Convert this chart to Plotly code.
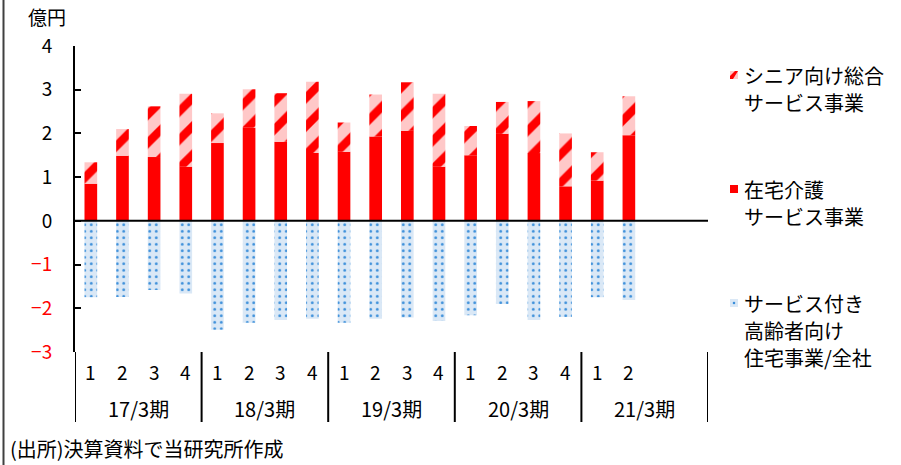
import plotly.graph_objects as go

# Fiscal-year groups and quarter labels along the category axis
fiscal_years = ["17/3期", "18/3期", "19/3期", "20/3期", "21/3期"]
quarters = ["1", "2", "3", "4", "1", "2", "3", "4", "1", "2", "3", "4",
            "1", "2", "3", "4", "1", "2"]

# Segment operating profit (億円)
home_care = [0.85, 1.49, 1.46, 1.24, 1.78, 2.13, 1.81, 1.55, 1.58, 1.93,
             2.06, 1.24, 1.50, 1.99, 1.55, 0.79, 0.92, 1.96]
senior_services = [0.49, 0.61, 1.16, 1.67, 0.68, 0.88, 1.11, 1.63, 0.67, 0.96,
                   1.11, 1.67, 0.67, 0.73, 1.19, 1.21, 0.65, 0.89]
housing_corporate = [-1.75, -1.74, -1.58, -1.66, -2.49, -2.33, -2.27, -2.24, -2.33, -2.24,
                     -2.21, -2.29, -2.16, -1.90, -2.27, -2.20, -1.75, -1.81]

y_ticks = [4, 3, 2, 1, 0, -1, -2, -3]

W, H = 901, 465
L, R, T, B = 75, 708, 46, 352
PW, PH = R - L, B - T


def px(x):
    return (x - L) / PW


def py(y):
    return (B - y) / PH


FONT = "Noto Sans CJK JP, Noto Sans, sans-serif"
FS_TEXT = 20
FS_NUM = 19
slots = 20
xs = list(range(len(quarters)))

fig = go.Figure()
fig.add_bar(x=xs, y=home_care, name="在宅介護サービス事業",
            marker=dict(color="#FF0000", line_width=0))
fig.add_bar(x=xs, y=senior_services, name="シニア向け総合サービス事業",
            marker=dict(color="#FFC8C8", line_width=0,
                        pattern=dict(shape="/", fgcolor="#FF0000", bgcolor="#FFC8C8",
                                     size=20, solidity=0.42, fillmode="replace")))
fig.add_bar(x=xs, y=housing_corporate, name="サービス付き高齢者向け住宅事業/全社",
            marker=dict(color="#DAE8F6", line_width=0,
                        pattern=dict(shape=".", fgcolor="#3A8EDA", bgcolor="#DAE8F6",
                                     size=6.5, solidity=0.15, fillmode="replace")))


def tick_text(v):
    if v < 0:
        return f'<span style="color:#FF0000">−{abs(v)}</span>'
    return str(v)


fig.update_layout(
    width=W, height=H,
    margin=dict(l=L, r=W - R, t=T, b=H - B, pad=0),
    paper_bgcolor="white", plot_bgcolor="white",
    barmode="relative", bargap=0.6,
    showlegend=False,
    font=dict(family=FONT, size=FS_TEXT, color="black"),
    xaxis=dict(range=[-0.5, slots - 0.5], showticklabels=False, showgrid=False,
               zeroline=False, showline=False, ticks=""),
    yaxis=dict(range=[-3, 4], tickvals=y_ticks, ticktext=[tick_text(v) for v in y_ticks],
               showgrid=False, zeroline=False, showline=True, linecolor="black",
               linewidth=2, ticks="inside", ticklen=6, tickwidth=2, tickcolor="black",
               ticklabelstandoff=17, tickfont=dict(family=FONT, size=FS_NUM, color="black"),
               layer="above traces"),
)

shapes = []
# zero baseline across the plot
shapes.append(dict(type="line", xref="paper", yref="y", x0=0, x1=1, y0=0, y1=0,
                   line=dict(color="black", width=2), layer="above"))
# group separators below the plot area
for k in range(len(fiscal_years) + 1):
    xv = -0.5 + 4 * k
    shapes.append(dict(type="line", xref="x", yref="paper", x0=xv, x1=xv,
                       y0=0, y1=py(422), line=dict(color="black", width=2)))
# left frame edge
shapes.append(dict(type="line", xref="paper", yref="paper", x0=px(3.5), x1=px(3.5),
                   y0=py(0), y1=py(H), line=dict(color="#404040", width=2)))

annotations = []
for i, q in enumerate(quarters):
    annotations.append(dict(x=i, xref="x", y=py(371), yref="paper", text=q,
                            font=dict(size=FS_NUM),
                            showarrow=False, xanchor="center", yanchor="middle"))
for k, fy in enumerate(fiscal_years):
    annotations.append(dict(x=1.5 + 4 * k, xref="x", y=py(408), yref="paper", text=fy,
                            showarrow=False, xanchor="center", yanchor="middle"))

# unit label and source note
annotations.append(dict(x=px(26), xref="paper", y=py(17), yref="paper", text="億円",
                        font=dict(size=19),
                        showarrow=False, xanchor="left", yanchor="middle"))
annotations.append(dict(x=px(8), xref="paper", y=py(448), yref="paper",
                        text="(出所)決算資料で当研究所作成",
                        showarrow=False, xanchor="left", yanchor="middle"))

# legend: swatches plus text lines
legend_items = [
    (75, ["シニア向け総合", "サービス事業"], "stripe"),
    (189, ["在宅介護", "サービス事業"], "solid"),
    (303, ["サービス付き", "高齢者向け", "住宅事業/全社"], "dot"),
]
sx0, sx1 = 730, 738
for yc, lines, kind in legend_items:
    y0, y1 = yc - 4, yc + 4
    if kind == "solid":
        shapes.append(dict(type="rect", xref="paper", yref="paper",
                           x0=px(sx0), x1=px(sx1), y0=py(y1), y1=py(y0),
                           fillcolor="#FF0000", line_width=0))
    elif kind == "stripe":
        shapes.append(dict(type="rect", xref="paper", yref="paper",
                           x0=px(sx0), x1=px(sx1), y0=py(y1), y1=py(y0),
                           fillcolor="#FFC8C8", line_width=0))
        path = (f"M {px(sx0)},{py(y1)} L {px(sx0)},{py(y1 - 3)} "
                f"L {px(sx1 - 3)},{py(y0)} L {px(sx1)},{py(y0)} L {px(sx0 + 3)},{py(y1)} Z")
        shapes.append(dict(type="path", xref="paper", yref="paper", path=path,
                           fillcolor="#FF0000", line_width=0))
    else:
        shapes.append(dict(type="rect", xref="paper", yref="paper",
                           x0=px(sx0), x1=px(sx1), y0=py(y1), y1=py(y0),
                           fillcolor="#DAE8F6", line_width=0))
        shapes.append(dict(type="circle", xref="paper", yref="paper",
                           x0=px(732.7), x1=px(735.3), y0=py(yc + 1.3), y1=py(yc - 1.3),
                           fillcolor="#3A8EDA", line_width=0))
    for j, line in enumerate(lines):
        annotations.append(dict(x=px(742), xref="paper", y=py(yc + 27 * j), yref="paper",
                                text=line, showarrow=False, xanchor="left",
                                yanchor="middle"))

fig.update_layout(shapes=shapes, annotations=annotations)
fig.write_html("out.html")
